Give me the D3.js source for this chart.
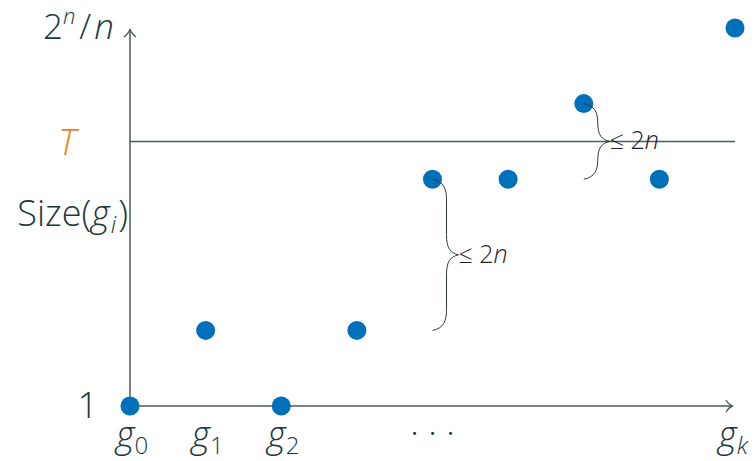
<!DOCTYPE html>
<html><head><meta charset="utf-8">
<script src="https://cdn.jsdelivr.net/npm/d3@7"></script>
<style>
body{margin:0;background:#fff;}
text{font-family:"Open Sans","Noto Sans",sans-serif;font-weight:300;fill:#23373b;}
</style></head>
<body><svg id="c" width="754" height="461"></svg>
<script>
const categories = ["g0","g1","g2","g3","g4","g5","g6","g7","gk"];
const sizes = [0, 1, 0, 1, 3, 3, 4, 3, 5];
const threshold = 3.5;
const xLabels = [{i:0, base:"g", sub:"0"}, {i:1, base:"g", sub:"1"}, {i:2, base:"g", sub:"2"}, {i:8, base:"g", sub:"k"}];
const braces = [{i:4, from:3, to:1}, {i:6, from:4, to:3}];
const braceLabel = "≤ 2";

const svg = d3.select("#c");
const x = d3.scaleLinear().domain([0, 8]).range([130, 735]);
const y = d3.scaleLinear().domain([0, 5]).range([406, 28]);
const ink = "#4a5a5e";
const FS = 36, SS = 24;

// axes
svg.append("line").attr("x1", x(0)).attr("y1", y(0)).attr("x2", 732).attr("y2", y(0))
  .attr("stroke", ink).attr("stroke-width", 1.5);
svg.append("line").attr("x1", x(0)).attr("y1", y(0)).attr("x2", x(0)).attr("y2", 30)
  .attr("stroke", ink).attr("stroke-width", 1.5);
svg.append("path").attr("d", `M${726},${y(0)-6} Q${729},${y(0)-1} ${733},${y(0)} Q${729},${y(0)+1} ${726},${y(0)+6}`)
  .attr("fill","none").attr("stroke", ink).attr("stroke-width", 1.3);
svg.append("path").attr("d", `M${x(0)-6},${37} Q${x(0)-1},${33} ${x(0)},${29} Q${x(0)+1},${33} ${x(0)+6},${37}`)
  .attr("fill","none").attr("stroke", ink).attr("stroke-width", 1.3);

// threshold line
svg.append("line").attr("x1", x(0)).attr("x2", x(8)).attr("y1", y(threshold)).attr("y2", y(threshold))
  .attr("stroke", ink).attr("stroke-width", 1.5);

// points
svg.selectAll("circle").data(sizes).join("circle")
  .attr("cx", (d,i)=>x(i)).attr("cy", d=>y(d)).attr("r", 9.5).attr("fill", "#0070bb");

// braces
function bracePath(bx, y1, y2){
  const h = 14, a = 26, ym = (y1+y2)/2;
  const r = Math.min(20, (y2-y1)/4);
  return `M${bx},${y1} C${bx+h*0.8},${y1+2} ${bx+h},${y1+r*0.5} ${bx+h},${y1+r}`+
    ` L${bx+h},${ym-r}` +
    ` C${bx+h},${ym-r*0.3} ${bx+h+4},${ym-2} ${bx+a},${ym}` +
    ` C${bx+h+4},${ym+2} ${bx+h},${ym+r*0.3} ${bx+h},${ym+r}` +
    ` L${bx+h},${y2-r}` +
    ` C${bx+h},${y2-r*0.5} ${bx+h*0.8},${y2-2} ${bx},${y2}`;
}
braces.forEach(b=>{
  const y1 = y(b.from), y2 = y(b.to);
  svg.append("path").attr("d", bracePath(x(b.i), y1, y2))
    .attr("fill","none").attr("stroke","#2b3a3e").attr("stroke-width",1);
  const t = svg.append("text").attr("x", x(b.i)+26).attr("y", (y1+y2)/2+8)
    .attr("font-size", 25).style("fill", "#222");
  t.append("tspan").text(braceLabel);
  t.append("tspan").attr("font-style","italic").text("n");
});

// y labels
const t1 = svg.append("text").attr("x", 114).attr("y", 39).attr("text-anchor","end").attr("font-size", 35);
t1.append("tspan").text("2");
t1.append("tspan").attr("font-size", 22).attr("dy", -15).attr("font-style","italic").text("n");
t1.append("tspan").attr("dy", 15).attr("dx", 4).text("/");
t1.append("tspan").attr("font-style","italic").attr("dx", 3).text("n");

svg.append("text").attr("x", 67).attr("y", 155).attr("text-anchor","middle").attr("font-size", FS)
  .attr("font-style","italic").style("fill", "#eb811b").text("T");

const t3 = svg.append("text").attr("x", 128).attr("y", 226).attr("text-anchor","end").attr("font-size", FS);
t3.append("tspan").text("Size(");
t3.append("tspan").attr("font-style","italic").text("g");
t3.append("tspan").attr("font-style","italic").attr("font-size", SS).attr("dy", 7).attr("dx", 1).text("i");
t3.append("tspan").attr("dy", -7).attr("dx", 2).text(")");

svg.append("text").attr("x", 98).attr("y", 418).attr("text-anchor","end").attr("font-size", FS).text("1");

// x labels
xLabels.forEach(l=>{
  const t = svg.append("text").attr("x", x(l.i)+ (l.i===8 ? -2 : 2)).attr("y", 447).attr("text-anchor","middle").attr("font-size", FS);
  t.append("tspan").attr("font-style","italic").text(l.base);
  t.append("tspan").attr("font-size", SS).attr("dy", 7).attr("font-style", l.sub==="k"?"italic":"normal").text(l.sub);
});
svg.append("text").attr("x", x(4)).attr("y", 445).attr("text-anchor","middle").attr("font-size", FS).text("· · ·");
</script></body></html>
